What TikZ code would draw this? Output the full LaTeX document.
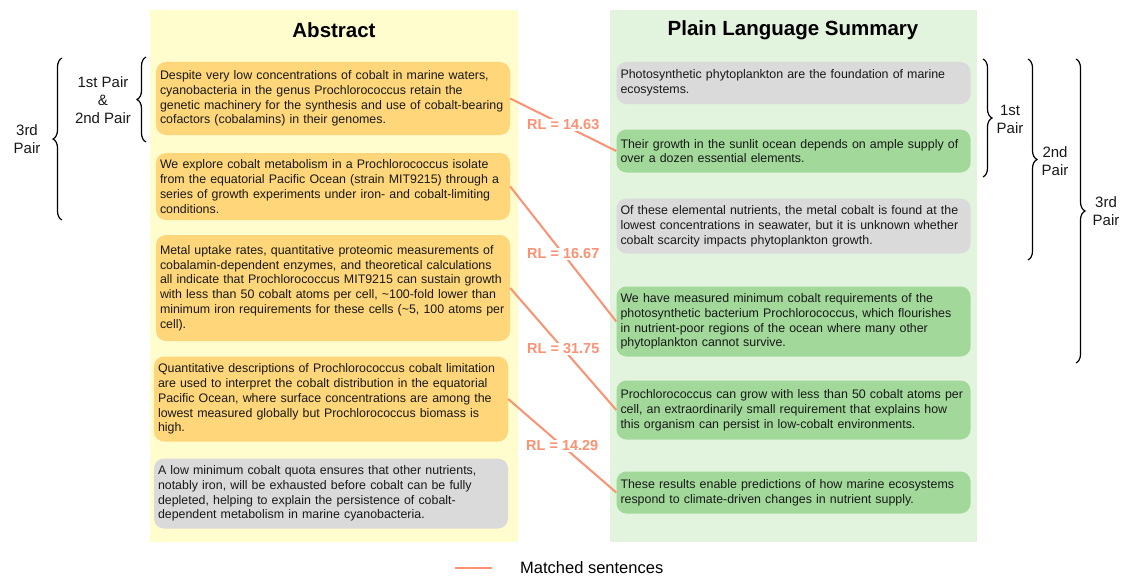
\documentclass[tikz,border=0pt]{standalone}
\usepackage{fontspec}
\setmainfont{Liberation Sans}
\usetikzlibrary{decorations.pathreplacing}
\definecolor{sumcolor0001}{RGB}{255,252,205}
\definecolor{sumcolor0002}{RGB}{226,243,222}
\definecolor{sumcolor0003}{RGB}{255,215,122}
\definecolor{sumcolor0004}{RGB}{218,218,218}
\definecolor{sumcolor0005}{RGB}{162,217,155}
\definecolor{sumcolor0006}{RGB}{250,146,115}
\definecolor{sumcolor0007}{RGB}{24,24,24}

\begin{document}
\begin{tikzpicture}[yscale=-1
,pstyle0/.style={draw=none,inner sep=0pt}
,pstyle1/.style={draw=none,rounded corners=10pt,text=sumcolor0007,inner xsep=4pt,inner ysep=0pt,text width=346pt,align=left,font=\fontsize{12.4}{14.8}\selectfont}
,pstyle2/.style={color=sumcolor0006,line width=2pt}
,pstyle3/.style={fill=white,text=sumcolor0006,inner sep=1pt,font=\fontsize{14.5}{16}\selectfont\bfseries}
,pstyle4/.style={color=black,line width=1.2pt,decorate,decoration={brace,amplitude=9pt}}
,pstyle5/.style={text=sumcolor0007,align=center,inner sep=0pt,font=\fontsize{15}{18}\selectfont}
]
\useasboundingbox (0pt,0pt) rectangle (1126pt,578pt);
\node[pstyle0,fill=sumcolor0001,minimum width=368pt,minimum height=532pt] (abspanel) at (334pt,276pt) {};
\node[pstyle0,fill=sumcolor0002,minimum width=367pt,minimum height=532pt] (plspanel) at (793.5pt,276pt) {};
\node[font=\fontsize{20.5}{24}\selectfont\bfseries] (abstitle) at (334pt,30pt) {Abstract};
\node[font=\fontsize{20.5}{24}\selectfont\bfseries] (plstitle) at (793pt,30pt) {Plain Language Summary};
\node[pstyle1,fill=sumcolor0003,minimum width=354pt,minimum height=73pt] (a1) at (333pt,98.5pt) {Despite very low concentrations of cobalt in marine waters,\\cyanobacteria in the genus Prochlorococcus retain the\\genetic machinery for the synthesis and use of cobalt-bearing\\cofactors (cobalamins) in their genomes.};
\node[pstyle1,fill=sumcolor0003,minimum width=354pt,minimum height=67pt] (a2) at (333pt,186.5pt) {We explore cobalt metabolism in a Prochlorococcus isolate\\from the equatorial Pacific Ocean (strain MIT9215) through a\\series of growth experiments under iron- and cobalt-limiting\\conditions.};
\node[pstyle1,fill=sumcolor0003,minimum width=354pt,minimum height=106pt] (a3) at (333pt,288pt) {Metal uptake rates, quantitative proteomic measurements of\\cobalamin-dependent enzymes, and theoretical calculations\\all indicate that Prochlorococcus MIT9215 can sustain growth\\with less than 50 cobalt atoms per cell, \textasciitilde100-fold lower than\\minimum iron requirements for these cells (\textasciitilde5, 100 atoms per\\cell).};
\node[pstyle1,fill=sumcolor0003,minimum width=354pt,minimum height=85pt] (a4) at (331pt,399pt) {Quantitative descriptions of Prochlorococcus cobalt limitation\\are used to interpret the cobalt distribution in the equatorial\\Pacific Ocean, where surface concentrations are among the\\lowest measured globally but Prochlorococcus biomass is\\high.};
\node[pstyle1,fill=sumcolor0004,minimum width=354pt,minimum height=70pt] (a5) at (331pt,493.5pt) {A low minimum cobalt quota ensures that other nutrients,\\notably iron, will be exhausted before cobalt can be fully\\depleted, helping to explain the persistence of cobalt-\\dependent metabolism in marine cyanobacteria.};
\node[pstyle1,fill=sumcolor0004,minimum width=353pt,minimum height=42pt] (p1) at (793.5pt,83pt) {Photosynthetic phytoplankton are the foundation of marine\\ecosystems.};
\node[pstyle1,fill=sumcolor0005,minimum width=353pt,minimum height=43pt] (p2) at (793.5pt,151pt) {Their growth in the sunlit ocean depends on ample supply of\\over a dozen essential elements.};
\node[pstyle1,fill=sumcolor0004,minimum width=353pt,minimum height=55pt] (p3) at (793.5pt,226pt) {Of these elemental nutrients, the metal cobalt is found at the\\lowest concentrations in seawater, but it is unknown whether\\cobalt scarcity impacts phytoplankton growth.};
\node[pstyle1,fill=sumcolor0005,minimum width=353pt,minimum height=70pt] (p4) at (793.5pt,321.5pt) {We have measured minimum cobalt requirements of the\\photosynthetic bacterium Prochlorococcus, which flourishes\\in nutrient-poor regions of the ocean where many other\\phytoplankton cannot survive.};
\node[pstyle1,fill=sumcolor0005,minimum width=353pt,minimum height=59pt] (p5) at (793.5pt,410pt) {Prochlorococcus can grow with less than 50 cobalt atoms per\\cell, an extraordinarily small requirement that explains how\\this organism can persist in low-cobalt environments.};
\node[pstyle1,fill=sumcolor0005,minimum width=353pt,minimum height=42pt] (p6) at (793.5pt,492.5pt) {These results enable predictions of how marine ecosystems\\respond to climate-driven changes in nutrient supply.};
\draw[pstyle2] (a1.east) -- node[pstyle3] (rl1) {RL = 14.63} (p2.west);
\draw[pstyle2] (a2.east) -- node[pstyle3] (rl2) {RL = 16.67} (p4.west);
\draw[pstyle2] (a3.east) -- node[pstyle3] (rl3) {RL = 31.75} (p5.west);
\draw[pstyle2] (a4.east) -- node[pstyle3] (rl4) {RL = 14.29} (p6.west);
\draw[pstyle4] (146pt,142pt) -- (146pt,57pt);
\node[pstyle5] (lpair12) at (103pt,100pt) {1st Pair\\\&\\2nd Pair};
\draw[pstyle4] (62pt,220pt) -- (62pt,58pt);
\node[pstyle5] (lpair3) at (27pt,139pt) {3rd\\Pair};
\draw[pstyle4] (983pt,59pt) -- (983pt,177pt);
\node[pstyle5] (rpair1) at (1010pt,119pt) {1st\\Pair};
\draw[pstyle4] (1028pt,59pt) -- (1028pt,260pt);
\node[pstyle5] (rpair2) at (1055pt,161pt) {2nd\\Pair};
\draw[pstyle4] (1076pt,59pt) -- (1076pt,363pt);
\node[pstyle5] (rpair3) at (1106pt,211pt) {3rd\\Pair};
\coordinate (lega) at (455pt,568pt);
\coordinate (legb) at (492pt,568pt);
\draw[pstyle2,line width=2.5pt] (lega) -- (legb);
\node[anchor=west,inner sep=0pt,font=\fontsize{16.5}{18}\selectfont] (legtext) at (520pt,568pt) {Matched sentences};
\end{tikzpicture}
\end{document}
